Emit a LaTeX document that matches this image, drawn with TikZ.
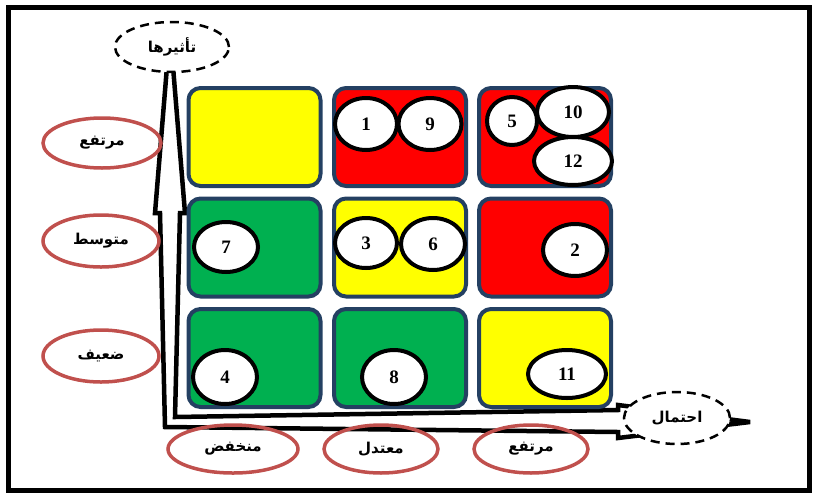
\documentclass[tikz,border=0pt]{standalone}
\usepackage{fontspec}
\setmainfont{Liberation Serif}
\newfontfamily\arabicfont[Script=Arabic]{DejaVu Sans}
\TeXXeTstate=1
\usetikzlibrary{shapes.geometric}
\definecolor{navy}{RGB}{36,64,98}
\definecolor{labred}{RGB}{192,80,77}
\definecolor{cgreen}{RGB}{0,176,80}
\definecolor{cred}{RGB}{255,0,0}
\definecolor{cyellow}{RGB}{255,255,0}
\tikzset{
  cell/.style={draw=navy, line width=4pt, rounded corners=12pt, minimum width=132pt, minimum height=98pt, inner sep=0pt},
  num/.style={ellipse, draw=black, line width=4pt, fill=white, inner sep=0pt, font=\bfseries\fontsize{19}{19}\selectfont},
  lab/.style={ellipse, draw=labred, line width=3.5pt, inner sep=0pt, font=\arabicfont\bfseries\fontsize{15}{15}\selectfont},
  dlab/.style={ellipse, draw=black, dash pattern=on 9pt off 6pt, line width=2.5pt, fill=white, inner sep=0pt, font=\arabicfont\bfseries\fontsize{15}{15}\selectfont},
  axis/.style={draw=black, line width=4.5pt, line join=miter, miter limit=3},
  frame/.style={draw=black, line width=5pt}
}
\begin{document}
\begin{tikzpicture}[x=1pt,y=-1pt]
\useasboundingbox (0,0) rectangle (813,493);
\path[frame] (8.5,7.5) rectangle (809,490);

% L-shaped hollow axis arrow
\path[axis] (165,427) -- (160,213) -- (155,213) -- (170,30) -- (185,213) -- (180,213)
  -- (175,417) -- (618,410) -- (618,405) -- (750,422) -- (618,438) -- (618,432) -- cycle;

% cells
\node[cell, fill=cyellow] (c11) at (254.5,137) {};
\node[cell, fill=cred]    (c12) at (400,137) {};
\node[cell, fill=cred]    (c13) at (545,137) {};
\node[cell, fill=cgreen]  (c21) at (254.5,247.5) {};
\node[cell, fill=cyellow] (c22) at (400,247.5) {};
\node[cell, fill=cred]    (c23) at (545,247.5) {};
\node[cell, fill=cgreen]  (c31) at (254.5,358) {};
\node[cell, fill=cgreen]  (c32) at (400,358) {};
\node[cell, fill=cyellow] (c33) at (545,358) {};

% risk circles
\node[num, minimum width=62pt, minimum height=52pt] (r1) at (366,124) {1};
\node[num, minimum width=63pt, minimum height=52pt] (r9) at (430,124) {9};
\node[num, minimum width=50pt, minimum height=48pt] (r5) at (512,121) {5};
\node[num, minimum width=72pt, minimum height=50pt] (r10) at (573,112) {10};
\node[num, minimum width=78pt, minimum height=48pt] (r12) at (573,161) {12};
\node[num, minimum width=64pt, minimum height=50pt] (r7) at (226,247) {7};
\node[num, minimum width=62pt, minimum height=50pt] (r3) at (366,243) {3};
\node[num, minimum width=64pt, minimum height=52pt] (r6) at (433,244) {6};
\node[num, minimum width=64pt, minimum height=52pt] (r2) at (575,250) {2};
\node[num, minimum width=64pt, minimum height=54pt] (r4) at (225,377) {4};
\node[num, minimum width=64pt, minimum height=54pt] (r8) at (394,377) {8};
\node[num, minimum width=78pt, minimum height=48pt] (r11) at (567,374) {11};

% row labels
\node[lab, minimum width=118pt, minimum height=50pt] (lhigh) at (102,143) {\beginR مرتفع\endR};
\node[lab, minimum width=116pt, minimum height=52pt] (lmid) at (101,241) {\beginR متوسط\endR};
\node[lab, minimum width=116pt, minimum height=52pt] (llow) at (101,356) {\beginR ضعيف\endR};

% column labels
\node[lab, minimum width=130pt, minimum height=48pt] (blow) at (233,449) {\beginR منخفض\endR};
\node[lab, minimum width=114pt, minimum height=48pt] (bmid) at (381,449) {\beginR معتدل\endR};
\node[lab, minimum width=114pt, minimum height=48pt] (bhigh) at (531,449) {\beginR مرتفع\endR};

% axis titles
\node[dlab, minimum width=114pt, minimum height=50pt] (ximpact) at (172,47) {\beginR تأثيرها\endR};
\node[dlab, minimum width=106pt, minimum height=52pt] (xprob) at (677,418) {\beginR احتمال\endR};
\end{tikzpicture}
\end{document}
